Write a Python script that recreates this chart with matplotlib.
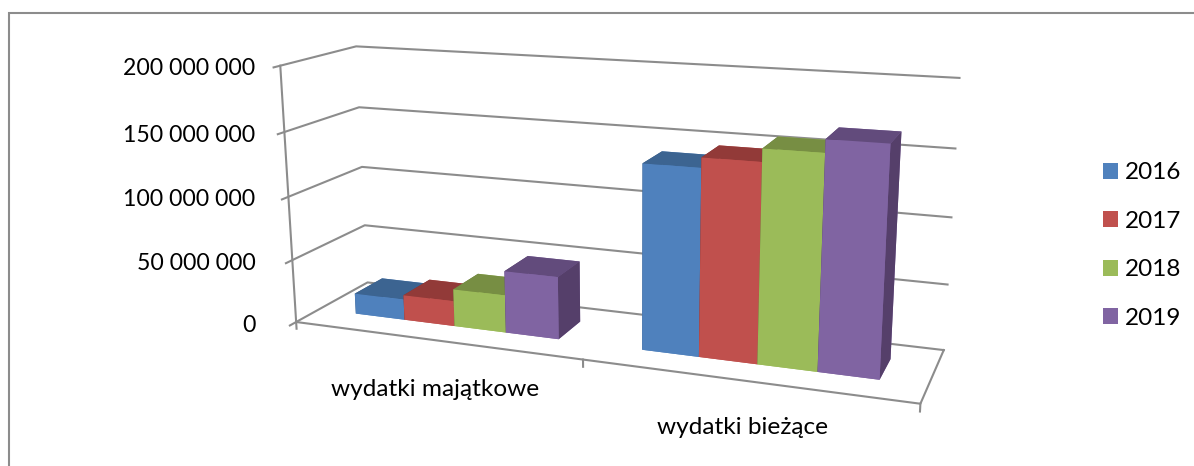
import numpy as np
import matplotlib
matplotlib.use('Agg')
import matplotlib.pyplot as plt
from matplotlib.patches import Patch, Rectangle

plt.rcParams['font.family'] = ['Lato', 'DejaVu Sans']

W, H = 1194, 466

# dane
kategorie = ['wydatki majątkowe', 'wydatki bieżące']
lata = ['2016', '2017', '2018', '2019']
wartosci_2016 = [16.5e6, 139.5e6]
wartosci_2017 = [20e6, 147e6]
wartosci_2018 = [29.5e6, 156.5e6]
wartosci_2019 = [48.5e6, 166e6]
serie = [wartosci_2016, wartosci_2017, wartosci_2018, wartosci_2019]
osie_y = [0, 50000000, 100000000, 150000000, 200000000]
etykiety_y = ['0', '50 000 000', '100 000 000', '150 000 000', '200 000 000']

# kolory: przod, gora, bok
kolory = ['#4F81BD', '#C0504D', '#9BBB59', '#8064A2']
kolory_gora = ['#3C6491', '#923A38', '#778E43', '#624B7C']
kolory_bok = ['#35557B', '#7D3230', '#66793A', '#553F6A']
szary = '#8C8C8C'

fig = plt.figure(figsize=(W / 100, H / 100), dpi=100)
fig.patch.set_facecolor('white')

# ramka wykresu
fig.add_artist(Rectangle((9 / W, -0.02), 1.1, 1 - 13 / H + 0.02, transform=fig.transFigure,
                         fill=False, edgecolor=szary, linewidth=1.5))

ax = fig.add_axes([0.20884, -0.21622, 0.58716, 1.50445], projection='3d', computed_zorder=False)
ax.set_xlim(0, 2, view_margin=0)
ax.set_ylim(0, 1, view_margin=0)
ax.set_zlim(0, 200000000, view_margin=0)
ax.view_init(14.389, -69.174, 0.233)
ax.set_proj_type('persp', focal_length=0.375)
ax.set_box_aspect((4.851, 1.102, 2.026))
ax.set_axis_off()
ax.patch.set_alpha(0)

# siatka na scianach i podlodze
for v in osie_y:
    ax.plot([0, 0, 2], [-0.08, 1, 1], [v, v, v], color=szary, lw=1.5, zorder=1, clip_on=False)
ax.plot([0, 0], [0, 0], [0, 200000000], color=szary, lw=1.5, zorder=1, clip_on=False)
ax.plot([0, 2, 2], [0, 0, 1], [0, 0, 0], color=szary, lw=1.5, zorder=1, clip_on=False)
for k in range(3):
    ax.plot([k, k], [0, 0], [0, -5500000], color=szary, lw=1.5, zorder=1, clip_on=False)

# slupki
szer = 0.181
y_przod = 0.31
glebokosc = 0.395
z = 2
for i in range(len(kategorie)):
    start = i + (1 - 4 * szer) / 2
    for j in range(len(lata)):
        kol = [kolory[j], kolory_gora[j], kolory[j], kolory[j], kolory_bok[j], kolory_bok[j]]
        ax.bar3d([start + j * szer], [y_przod], [0], szer, glebokosc, serie[j][i],
                 color=kol, shade=False, zorder=z)
        z += 1

# opisy osi
poz_y = [325, 263, 200, 135, 68]
for tekst, py in zip(etykiety_y, poz_y):
    fig.text(255.5 / W, 1 - py / H, tekst, ha='right', va='center', fontsize=16.6, color='black')
poz_kat = [(435.5, 389), (742.5, 427)]
for tekst, (px, py) in zip(kategorie, poz_kat):
    fig.text(px / W, 1 - py / H, tekst, ha='center', va='center', fontsize=17.6, color='black')

uchwyty = [Patch(facecolor=k, edgecolor='none') for k in kolory]
fig.legend(uchwyty, lata, loc='center left', bbox_to_anchor=(1103 / W, 1 - 245.5 / H), frameon=False,
           fontsize=17.5, handlelength=0.62, handleheight=0.62, handletextpad=0.3,
           labelspacing=1.13, borderpad=0, borderaxespad=0)

plt.savefig('out.png', dpi=100)
